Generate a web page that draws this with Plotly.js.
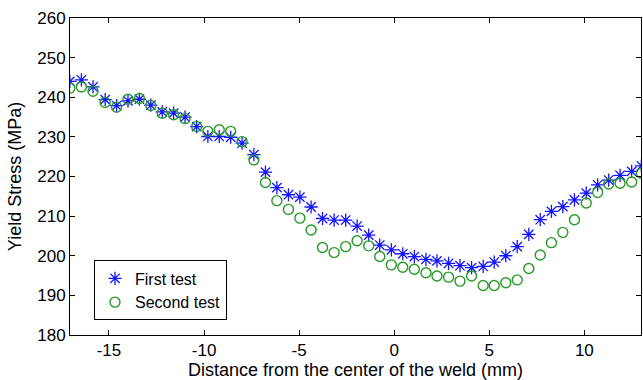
<!DOCTYPE html>
<html>
<head>
<meta charset="utf-8">
<script src="https://cdn.plot.ly/plotly-3.0.1.min.js"></script>
<style>html,body{margin:0;padding:0;background:#fff;}#chart{width:643px;height:380px;}</style>
</head>
<body>
<div id="chart"></div>
<script>
const distance = [-17.06, -16.45, -15.84, -15.2, -14.6, -14.0, -13.4, -12.8, -12.2, -11.6, -11.0, -10.39, -9.8, -9.2, -8.6, -8.0, -7.38, -6.77, -6.17, -5.56, -4.96, -4.37, -3.77, -3.16, -2.55, -1.95, -1.34, -0.76, -0.15, 0.45, 1.06, 1.67, 2.25, 2.86, 3.46, 4.07, 4.68, 5.26, 5.87, 6.47, 7.08, 7.68, 8.27, 8.87, 9.48, 10.1, 10.7, 11.28, 11.88, 12.49, 13.0];
const firstTest = [244.0, 244.4, 242.6, 239.4, 237.9, 239.1, 239.5, 238.0, 236.3, 236.0, 235.0, 232.6, 230.1, 230.1, 229.9, 228.4, 225.5, 221.1, 217.2, 215.4, 214.8, 212.3, 209.4, 209.0, 209.0, 207.5, 205.2, 202.7, 201.5, 200.5, 199.8, 199.1, 198.7, 198.1, 197.5, 197.0, 197.3, 198.4, 200.0, 202.3, 205.4, 209.1, 211.2, 212.4, 214.1, 215.8, 217.9, 219.1, 220.3, 221.3, 222.7];
const secondTest = [242.3, 242.6, 241.5, 238.7, 237.5, 239.5, 239.7, 237.9, 236.0, 235.6, 234.6, 232.6, 231.4, 231.8, 231.4, 228.8, 224.2, 218.5, 213.9, 211.7, 209.5, 206.5, 202.1, 200.8, 202.3, 203.8, 202.5, 199.8, 197.7, 197.1, 196.6, 195.7, 194.9, 194.6, 193.6, 194.9, 192.5, 192.5, 193.2, 193.9, 196.8, 200.2, 203.3, 205.9, 209.1, 213.3, 216.0, 218.1, 218.3, 218.6, 220.8];
const seriesNames = ["First test", "Second test"];
const xTickVals = [-15, -10, -5, 0, 5, 10];
const xTickText = ["-15", "-10", "-5", "0", "5", "10"];
const yTickVals = [180, 190, 200, 210, 220, 230, 240, 250, 260];
const yTickText = ["180", "190", "200", "210", "220", "230", "240", "250", "260"];

const font = "Liberation Sans, Arial, sans-serif";
const traces = [
  {
    x: distance, y: firstTest, name: seriesNames[0], type: "scatter", mode: "markers",
    marker: {symbol: "asterisk-open", size: 11, color: "#1414ff", line: {color: "#1414ff", width: 1.3}}
  },
  {
    x: distance, y: secondTest, name: seriesNames[1], type: "scatter", mode: "markers",
    marker: {symbol: "circle-open", size: 10, color: "#259a25", line: {color: "#259a25", width: 1.4}}
  }
];
const axisCommon = {
  showline: true, linecolor: "#000", linewidth: 1, mirror: "ticks",
  ticks: "inside", ticklen: 5, tickcolor: "#000", showgrid: false, zeroline: false,
  tickfont: {family: font, size: 17, color: "#000"}
};
const layout = {
  width: 643, height: 380,
  margin: {l: 70, r: 2, t: 18, b: 45},
  paper_bgcolor: "#fff", plot_bgcolor: "#fff",
  showlegend: true,
  xaxis: Object.assign({}, axisCommon, {
    range: [-17.05, 12.98], tickmode: "array", tickvals: xTickVals, ticktext: xTickText,
    title: {text: "Distance from the center of the weld (mm)", font: {family: font, size: 18, color: "#000"}, standoff: 4}
  }),
  yaxis: Object.assign({}, axisCommon, {
    range: [180, 260], tickmode: "array", tickvals: yTickVals, ticktext: yTickText,
    title: {text: "Yield Stress (MPa)", font: {family: font, size: 18, color: "#000"}, standoff: 10}
  }),
  legend: {
    x: 0.042, y: 0.046, xanchor: "left", yanchor: "bottom",
    bgcolor: "#fff", bordercolor: "#000", borderwidth: 1,
    font: {family: font, size: 16, color: "#000"},
    itemwidth: 30, tracegroupgap: 0
  }
};
Plotly.newPlot("chart", traces, layout, {displayModeBar: false, staticPlot: true});
</script>
</body>
</html>
